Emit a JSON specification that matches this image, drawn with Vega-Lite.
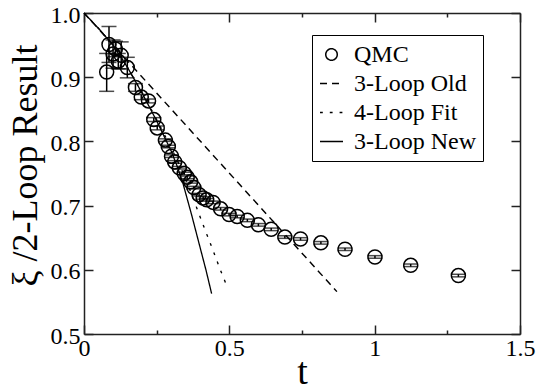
{
  "$schema": "https://vega.github.io/schema/vega-lite/v6.json",
  "width": 436,
  "height": 321,
  "autosize": "none",
  "padding": {"left": 84, "top": 13, "right": 17, "bottom": 56},
  "background": "white",
  "config": {
    "view": {"stroke": null},
    "font": "Liberation Serif",
    "axis": {
      "domainColor": "#222",
      "domainWidth": 1.5,
      "tickColor": "#222",
      "tickWidth": 1.5,
      "grid": false,
      "labelFont": "Liberation Serif",
      "labelFontSize": 24,
      "labelColor": "black",
      "labelFlush": false,
      "labelOverlap": false,
      "titleFont": "Liberation Serif",
      "titleFontWeight": "normal",
      "titleColor": "black"
    },
    "legend": {
      "orient": "none",
      "legendX": 228,
      "legendY": 22,
      "strokeColor": "black",
      "padding": 7,
      "labelFont": "Liberation Serif",
      "labelFontSize": 24,
      "labelColor": "black",
      "symbolSize": 529,
      "symbolStrokeColor": "black",
      "symbolFillColor": "transparent",
      "symbolStrokeWidth": 1.5,
      "rowPadding": 4,
      "labelOffset": 10
    }
  },
  "datasets": {
    "qmc": [
      {"t": 0.078, "y": 0.908, "lo": 0.878, "hi": 0.937},
      {"t": 0.086, "y": 0.951, "lo": 0.923, "hi": 0.979},
      {"t": 0.100, "y": 0.936, "lo": 0.914, "hi": 0.958},
      {"t": 0.108, "y": 0.944, "lo": 0.932, "hi": 0.956},
      {"t": 0.118, "y": 0.925, "lo": 0.913, "hi": 0.937},
      {"t": 0.128, "y": 0.934, "lo": 0.913, "hi": 0.955},
      {"t": 0.149, "y": 0.915, "lo": 0.899, "hi": 0.931},
      {"t": 0.177, "y": 0.884, "lo": 0.878, "hi": 0.890},
      {"t": 0.197, "y": 0.869, "lo": 0.865, "hi": 0.873},
      {"t": 0.222, "y": 0.863, "lo": 0.860, "hi": 0.866},
      {"t": 0.240, "y": 0.834, "lo": 0.831, "hi": 0.837},
      {"t": 0.252, "y": 0.821, "lo": 0.818, "hi": 0.824},
      {"t": 0.280, "y": 0.802, "lo": 0.800, "hi": 0.804},
      {"t": 0.290, "y": 0.792, "lo": 0.790, "hi": 0.794},
      {"t": 0.301, "y": 0.777, "lo": 0.775, "hi": 0.779},
      {"t": 0.312, "y": 0.768, "lo": 0.766, "hi": 0.770},
      {"t": 0.328, "y": 0.759, "lo": 0.757, "hi": 0.761},
      {"t": 0.345, "y": 0.750, "lo": 0.748, "hi": 0.752},
      {"t": 0.355, "y": 0.744, "lo": 0.742, "hi": 0.746},
      {"t": 0.367, "y": 0.737, "lo": 0.735, "hi": 0.739},
      {"t": 0.378, "y": 0.728, "lo": 0.726, "hi": 0.730},
      {"t": 0.396, "y": 0.717, "lo": 0.715, "hi": 0.719},
      {"t": 0.410, "y": 0.712, "lo": 0.710, "hi": 0.714},
      {"t": 0.422, "y": 0.709, "lo": 0.707, "hi": 0.711},
      {"t": 0.444, "y": 0.705, "lo": 0.703, "hi": 0.707},
      {"t": 0.470, "y": 0.695, "lo": 0.693, "hi": 0.697},
      {"t": 0.499, "y": 0.686, "lo": 0.684, "hi": 0.688},
      {"t": 0.527, "y": 0.683, "lo": 0.681, "hi": 0.685},
      {"t": 0.562, "y": 0.677, "lo": 0.675, "hi": 0.679},
      {"t": 0.600, "y": 0.670, "lo": 0.668, "hi": 0.672},
      {"t": 0.644, "y": 0.663, "lo": 0.661, "hi": 0.665},
      {"t": 0.691, "y": 0.651, "lo": 0.649, "hi": 0.653},
      {"t": 0.745, "y": 0.648, "lo": 0.646, "hi": 0.650},
      {"t": 0.815, "y": 0.642, "lo": 0.640, "hi": 0.644},
      {"t": 0.898, "y": 0.632, "lo": 0.630, "hi": 0.634},
      {"t": 1.001, "y": 0.620, "lo": 0.618, "hi": 0.622},
      {"t": 1.124, "y": 0.607, "lo": 0.605, "hi": 0.609},
      {"t": 1.288, "y": 0.591, "lo": 0.589, "hi": 0.593}
    ],
    "curves": [
      {"series": "3-Loop Old", "t": 0.0, "y": 1.0},
      {"series": "3-Loop Old", "t": 0.87, "y": 0.566},
      {"series": "4-Loop Fit", "t": 0.0, "y": 1.0},
      {"series": "4-Loop Fit", "t": 0.05, "y": 0.976},
      {"series": "4-Loop Fit", "t": 0.1, "y": 0.95},
      {"series": "4-Loop Fit", "t": 0.15, "y": 0.915},
      {"series": "4-Loop Fit", "t": 0.2, "y": 0.876},
      {"series": "4-Loop Fit", "t": 0.25, "y": 0.834},
      {"series": "4-Loop Fit", "t": 0.3, "y": 0.79},
      {"series": "4-Loop Fit", "t": 0.34, "y": 0.752},
      {"series": "4-Loop Fit", "t": 0.376, "y": 0.711},
      {"series": "4-Loop Fit", "t": 0.393, "y": 0.69},
      {"series": "4-Loop Fit", "t": 0.42, "y": 0.658},
      {"series": "4-Loop Fit", "t": 0.445, "y": 0.629},
      {"series": "4-Loop Fit", "t": 0.468, "y": 0.601},
      {"series": "4-Loop Fit", "t": 0.493, "y": 0.573},
      {"series": "3-Loop New", "t": 0.0, "y": 1.0},
      {"series": "3-Loop New", "t": 0.05, "y": 0.976},
      {"series": "3-Loop New", "t": 0.1, "y": 0.95},
      {"series": "3-Loop New", "t": 0.15, "y": 0.915},
      {"series": "3-Loop New", "t": 0.2, "y": 0.875},
      {"series": "3-Loop New", "t": 0.25, "y": 0.832},
      {"series": "3-Loop New", "t": 0.3, "y": 0.785},
      {"series": "3-Loop New", "t": 0.32, "y": 0.762},
      {"series": "3-Loop New", "t": 0.339, "y": 0.737},
      {"series": "3-Loop New", "t": 0.37, "y": 0.686},
      {"series": "3-Loop New", "t": 0.401, "y": 0.632},
      {"series": "3-Loop New", "t": 0.42, "y": 0.599},
      {"series": "3-Loop New", "t": 0.439, "y": 0.563}
    ]
  },
  "resolve": {"axis": {"x": "independent", "y": "independent"}},
  "layer": [
    {
      "data": {"name": "qmc"},
      "mark": {"type": "rule", "color": "black", "strokeWidth": 1.5},
      "encoding": {
        "x": {
          "field": "t", "type": "quantitative",
          "scale": {"domain": [0, 1.5], "nice": false, "zero": false},
          "axis": {
            "orient": "bottom",
            "values": [0, 0.25, 0.5, 0.75, 1, 1.25, 1.5],
            "labelExpr": "datum.value % 0.5 == 0 ? format(datum.value, '~g') : ''",
            "tickSize": -9,
            "tickDash": {"condition": {"test": "datum.value % 0.5 != 0", "value": [4, 20]}, "value": [20, 0]},
            "labelPadding": 11,
            "title": "t",
            "titleFontSize": 38,
            "titleBaseline": "alphabetic",
            "titleY": 49
          }
        },
        "y": {
          "field": "lo", "type": "quantitative",
          "scale": {"domain": [0.5, 1.0], "nice": false, "zero": false},
          "axis": {
            "orient": "left",
            "values": [0.5, 0.6, 0.7, 0.8, 0.9, 1.0],
            "format": ".1f",
            "tickSize": -9,
            "labelPadding": 13,
            "labelOffset": 2,
            "title": "ξ /2-Loop Result",
            "titleFontSize": 36,
            "titleBaseline": "alphabetic",
            "titleX": -48,
            "titleY": 152
          }
        },
        "y2": {"field": "hi"}
      }
    },
    {
      "data": {"name": "qmc"},
      "mark": {"type": "tick", "orient": "horizontal", "color": "black", "size": 15, "thickness": 1.5},
      "encoding": {
        "x": {"field": "t", "type": "quantitative", "axis": null},
        "y": {"field": "lo", "type": "quantitative", "axis": null}
      }
    },
    {
      "data": {"name": "qmc"},
      "mark": {"type": "tick", "orient": "horizontal", "color": "black", "size": 15, "thickness": 1.5},
      "encoding": {
        "x": {"field": "t", "type": "quantitative", "axis": null},
        "y": {"field": "hi", "type": "quantitative", "axis": null}
      }
    },
    {
      "data": {"name": "qmc"},
      "transform": [{"calculate": "'QMC'", "as": "series"}],
      "mark": {"type": "point", "filled": false, "color": "black", "strokeWidth": 1.5, "size": 784, "opacity": 1},
      "encoding": {
        "x": {"field": "t", "type": "quantitative", "axis": null},
        "y": {"field": "y", "type": "quantitative", "axis": null},
        "shape": {
          "field": "series", "type": "nominal",
          "scale": {
            "domain": ["QMC", "3-Loop Old", "4-Loop Fit", "3-Loop New"],
            "range": ["M0.5,0A0.5,0.5,0,1,1,-0.5,0A0.5,0.5,0,1,1,0.5,0", "stroke", "stroke", "stroke"]
          },
          "legend": {"title": null}
        }
      }
    },
    {
      "data": {"name": "curves"},
      "mark": {"type": "line", "color": "black"},
      "encoding": {
        "x": {
          "field": "t", "type": "quantitative",
          "axis": {
            "orient": "top",
            "values": [0, 0.25, 0.5, 0.75, 1, 1.25, 1.5],
            "labels": false,
            "tickSize": -9,
            "tickDash": {"condition": {"test": "datum.value % 0.5 != 0", "value": [4, 20]}, "value": [20, 0]},
            "title": null
          }
        },
        "y": {
          "field": "y", "type": "quantitative",
          "axis": {
            "orient": "right",
            "values": [0.5, 0.6, 0.7, 0.8, 0.9, 1.0],
            "labels": false,
            "tickSize": -9,
            "title": null
          }
        },
        "strokeDash": {
          "field": "series", "type": "nominal",
          "scale": {
            "domain": ["QMC", "3-Loop Old", "4-Loop Fit", "3-Loop New"],
            "range": [[1, 0], [7, 5], [2.8, 7], [1, 0]]
          },
          "legend": {"title": null}
        },
        "strokeWidth": {
          "field": "series", "type": "nominal",
          "scale": {
            "domain": ["QMC", "3-Loop Old", "4-Loop Fit", "3-Loop New"],
            "range": [1.5, 1.3, 2.8, 2.2]
          },
          "legend": {"title": null}
        }
      }
    }
  ]
}
